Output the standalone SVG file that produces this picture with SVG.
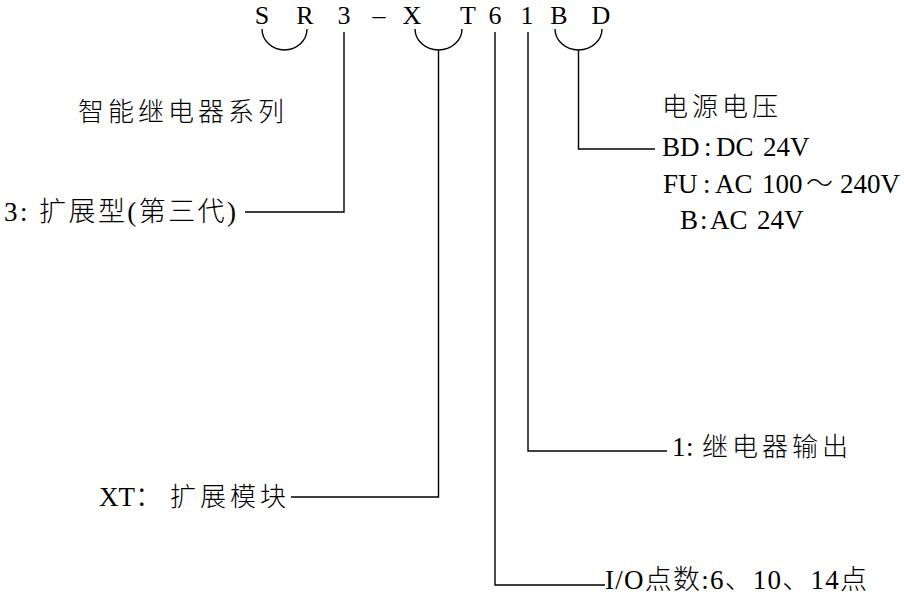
<svg xmlns="http://www.w3.org/2000/svg" width="904" height="607" viewBox="0 0 904 607">
<style>
.t{font-family:"Liberation Serif","Noto Sans CJK SC",serif;font-size:27px;fill:#000;font-weight:300}
.h{font-family:"Liberation Serif","Noto Sans CJK SC",serif;font-size:26px;letter-spacing:4px;fill:#000;font-weight:300}
.c{font-family:"Liberation Serif","Noto Sans CJK SC",serif;font-size:26px;fill:#000;text-anchor:middle}
.ln{fill:none;stroke:#000;stroke-width:1.4}
</style>
<rect width="904" height="607" fill="#fff"/>
<g id="code">
<text class="c" x="262" y="24">S</text>
<text class="c" x="305" y="24">R</text>
<text class="c" x="344" y="24">3</text>
<text class="c" x="379" y="24">–</text>
<text class="c" x="412" y="24">X</text>
<text class="c" x="468" y="24">T</text>
<text class="c" x="495" y="24">6</text>
<text class="c" x="527" y="24">1</text>
<text class="c" x="559" y="24">B</text>
<text class="c" x="601" y="24">D</text>
</g>
<g id="connectors">
<path class="ln" d="M262,29 A22.5,21 0 0 0 307,29"/>
<path class="ln" d="M415,29 A23.5,21 0 0 0 462,29"/>
<path class="ln" d="M555,29 A23.5,21 0 0 0 602,29"/>
<path class="ln" d="M344,32 V212 H245"/>
<path class="ln" d="M438.5,50 V497 H291"/>
<path class="ln" d="M495,32 V585 H605"/>
<path class="ln" d="M528,32 V451 H667"/>
<path class="ln" d="M578.5,50 V149 H655"/>
</g>
<g id="series"><text class="h" x="78" y="121">智能继电器系列</text></g>
<g id="type"><text class="t" x="4" y="221" textLength="232" lengthAdjust="spacing">3: 扩展型(第三代)</text></g>
<g id="module"><text class="t" x="99" y="506">XT：<tspan class="h" x="170">扩展模块</tspan></text></g>
<g id="output"><text class="t" x="672" y="456">1<tspan x="686">:</tspan><tspan class="h" x="702">继电器输出</tspan></text></g>
<g id="io"><text class="t" x="605" y="589" textLength="262" lengthAdjust="spacing">I/O点数:6、10、14点</text></g>
<g id="power">
<text class="h" x="662" y="116">电源电压</text>
<text class="t" x="662" y="156">BD<tspan x="704">:</tspan><tspan x="716">DC</tspan><tspan x="763">24V</tspan></text>
<text class="t" x="663" y="193">FU<tspan x="703">:</tspan><tspan x="715">AC</tspan><tspan x="762">100</tspan><tspan x="806">～</tspan><tspan x="840">240V</tspan></text>
<text class="t" x="680" y="229">B<tspan x="700">:</tspan><tspan x="710">AC</tspan><tspan x="757">24V</tspan></text>
</g>
</svg>
